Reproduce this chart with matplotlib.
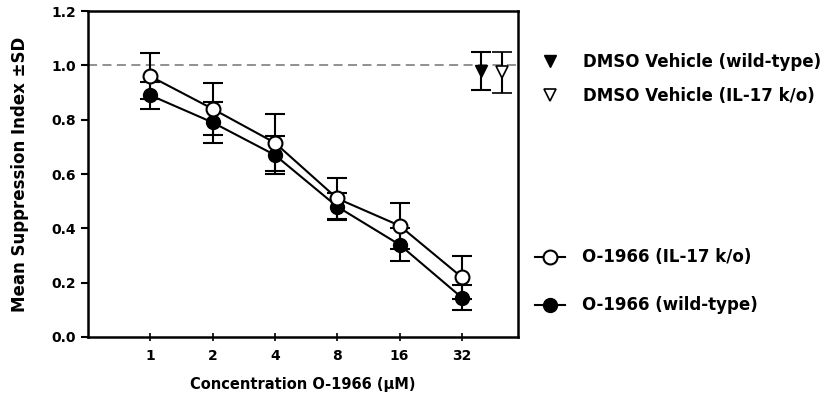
import numpy as np
import matplotlib
matplotlib.use("Agg")
import matplotlib.pyplot as plt
from matplotlib.lines import Line2D

plt.rcParams['font.family'] = ['DejaVu Sans']
plt.rcParams['font.weight'] = 'bold'

conc_labels = ['1', '2', '4', '8', '16', '32']
ko_mean = [0.96, 0.84, 0.715, 0.51, 0.41, 0.22]
ko_sd = [0.085, 0.095, 0.105, 0.075, 0.085, 0.08]
wt_mean = [0.89, 0.79, 0.67, 0.48, 0.34, 0.145]
wt_sd = [0.05, 0.075, 0.07, 0.05, 0.06, 0.045]
veh_wt_mean, veh_wt_sd = 0.98, 0.07
veh_ko_mean, veh_ko_sd = 0.975, 0.075

x = np.arange(1, len(conc_labels) + 1)

fig = plt.figure(figsize=(8.3, 3.96), dpi=100)
ax = fig.add_axes([0.106, 0.149, 0.518, 0.823])

ax.axhline(1.0, color='#888888', ls=(0, (5, 3)), lw=1.3, zorder=1)

ebkw = dict(color='black', lw=1.5, capsize=7, capthick=1.5, elinewidth=1.5, zorder=3)
ax.errorbar(x, wt_mean, yerr=wt_sd, marker='o', markersize=10, mfc='black', mec='black', **ebkw)
ax.errorbar(x, ko_mean, yerr=ko_sd, marker='o', markersize=10, mfc='white', mec='black', mew=1.5, **ebkw)
ax.errorbar([6.3], [veh_wt_mean], yerr=[veh_wt_sd], marker='v', markersize=9, mfc='black', mec='black', ls='none', **ebkw)
ax.errorbar([6.65], [veh_ko_mean], yerr=[veh_ko_sd], marker='v', markersize=9, mfc='white', mec='black', mew=1.2, ls='none', **ebkw)

ax.set_xlim(0, 6.9)
ax.set_ylim(0, 1.2)
ax.set_xticks(x)
ax.set_xticklabels(conc_labels)
yt = np.arange(0, 1.21, 0.2)
ax.set_yticks(yt)
ax.set_yticklabels([f'{v:.1f}' for v in yt])
ax.tick_params(axis='y', direction='out', length=5, width=1.5, labelsize=10)
ax.tick_params(axis='x', direction='inout', length=6, width=1.2, labelsize=10, pad=6)
for s in ax.spines.values():
    s.set_linewidth(1.8)

ax.set_ylabel('Mean Suppression Index \u00b1SD', fontsize=12, fontweight='bold', labelpad=16)
ax.set_xlabel('Concentration O-1966 (\u03bcM)', fontsize=10.5, fontweight='bold', labelpad=10)

h1 = [Line2D([], [], marker='v', ls='none', color='black', mfc='black', markersize=9),
      Line2D([], [], marker='v', ls='none', color='black', mfc='white', mew=1.2, markersize=9)]
fig.legend(h1, ['DMSO Vehicle (wild-type)', 'DMSO Vehicle (IL-17 k/o)'],
           loc='center left', bbox_to_anchor=(530 / 830, 1 - 79 / 396), frameon=False,
           prop={'size': 12, 'weight': 'bold'}, handlelength=2.4, handletextpad=0.8,
           labelspacing=1.0, borderpad=0, borderaxespad=0)
h2 = [Line2D([], [], marker='o', color='black', mfc='white', mew=1.5, lw=1.5, markersize=10),
      Line2D([], [], marker='o', color='black', mfc='black', lw=1.5, markersize=10)]
fig.legend(h2, ['O-1966 (IL-17 k/o)', 'O-1966 (wild-type)'],
           loc='center left', bbox_to_anchor=(535 / 830, 1 - 281.5 / 396), frameon=False,
           prop={'size': 12, 'weight': 'bold'}, handlelength=1.8, handletextpad=1.0,
           labelspacing=1.8, borderpad=0, borderaxespad=0)

fig.savefig('out.png', dpi=100)
